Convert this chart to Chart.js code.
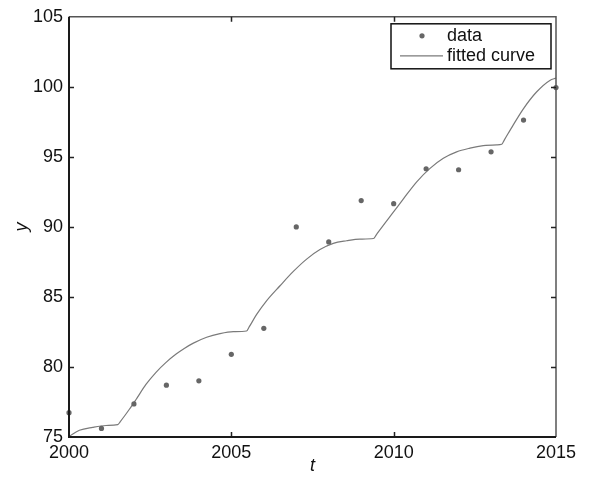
<!DOCTYPE html>
<html>
<head>
<meta charset="utf-8">
<script src="https://cdn.jsdelivr.net/npm/chart.js@4/dist/chart.umd.min.js"></script>
<style>
  html, body { margin: 0; padding: 0; background: #fff; }
  #wrap { width: 592px; height: 484px; }
</style>
</head>
<body>
<div id="wrap"><canvas id="c" width="592" height="484"></canvas></div>
<script>
// ---- data ----
const dataYears = [2000, 2001, 2002, 2003, 2004, 2005, 2006, 2007, 2008, 2009, 2010, 2011, 2012, 2013, 2014, 2015];
const dataValues = [76.74, 75.61, 77.36, 78.70, 79.01, 80.90, 82.76, 90.00, 88.93, 91.88, 91.66, 94.15, 94.08, 95.36, 97.63, 99.95];

const curveT = [2000.00, 2000.32, 2000.73, 2001.14, 2001.50, 2001.58, 2001.86, 2002.06, 2002.37, 2002.68, 2002.99,
                2003.30, 2003.55, 2003.83, 2004.24, 2004.65, 2005.06, 2005.47, 2005.55, 2005.78, 2006.09, 2006.50,
                2006.91, 2007.32, 2007.73, 2008.14, 2008.55, 2008.96, 2009.38, 2009.46, 2009.68, 2009.99, 2010.30,
                2010.71, 2011.12, 2011.53, 2011.94, 2012.35, 2012.76, 2013.17, 2013.33, 2013.41, 2013.68, 2014.00,
                2014.40, 2014.81, 2015.00];
const curveY = [75.05, 75.48, 75.69, 75.82, 75.88, 76.10, 76.98, 77.66, 78.75, 79.62, 80.33,
                80.92, 81.32, 81.70, 82.12, 82.38, 82.52, 82.57, 82.86, 83.75, 84.74, 85.80,
                86.82, 87.70, 88.38, 88.82, 89.01, 89.13, 89.17, 89.42, 90.11, 91.05, 92.00,
                93.22, 94.18, 94.90, 95.36, 95.62, 95.80, 95.86, 95.90, 96.21, 97.27, 98.45,
                99.63, 100.46, 100.62];

const xTicks = [2000, 2005, 2010, 2015];
const yTicks = [75, 80, 85, 90, 95, 100, 105];
const seriesLabels = ['data', 'fitted curve'];
const xTitle = 't';
const yTitle = 'y';

const FONT = '"Liberation Sans", Arial, sans-serif';
const pointColor = '#666666';
const lineColor = '#7a7a7a';

// box, inward ticks and legend, all from scales
const boxPlugin = {
  id: 'matlabBox',
  afterDatasetsDraw(chart) {
    const ctx = chart.ctx;
    const a = chart.chartArea;
    const xs = chart.scales.x, ys = chart.scales.y;
    ctx.save();
    // top & right frame
    ctx.strokeStyle = '#555';
    ctx.lineWidth = 1.5;
    ctx.beginPath();
    ctx.moveTo(a.left, a.top); ctx.lineTo(a.right, a.top); ctx.lineTo(a.right, a.bottom);
    ctx.stroke();
    // inward ticks
    ctx.strokeStyle = '#222';
    ctx.lineWidth = 1.5;
    const tl = 5;
    xTicks.forEach(v => {
      if (v === xs.min || v === xs.max) return;
      const px = Math.round(xs.getPixelForValue(v)) + 0.5;
      ctx.beginPath();
      ctx.moveTo(px, a.bottom); ctx.lineTo(px, a.bottom - tl);
      ctx.moveTo(px, a.top); ctx.lineTo(px, a.top + tl);
      ctx.stroke();
    });
    yTicks.forEach(v => {
      if (v === ys.min || v === ys.max) return;
      const py = Math.round(ys.getPixelForValue(v)) + 0.5;
      ctx.beginPath();
      ctx.moveTo(a.left, py); ctx.lineTo(a.left + tl, py);
      ctx.moveTo(a.right, py); ctx.lineTo(a.right - tl, py);
      ctx.stroke();
    });
    // bottom & left frame (dark)
    ctx.strokeStyle = '#1a1a1a';
    ctx.lineWidth = 2;
    ctx.beginPath();
    ctx.moveTo(a.left, a.top); ctx.lineTo(a.left, a.bottom); ctx.lineTo(a.right, a.bottom);
    ctx.stroke();

    // legend box (top-right, inside axes)
    const bw = 160, bh = 45;
    const bx = a.right - 5 - bw, by = a.top + 7;
    ctx.fillStyle = '#fff';
    ctx.fillRect(bx, by, bw, bh);
    ctx.strokeStyle = '#111';
    ctx.lineWidth = 1.5;
    ctx.strokeRect(bx, by, bw, bh);
    ctx.font = '18px ' + FONT;
    ctx.fillStyle = '#111';
    ctx.textBaseline = 'middle';
    ctx.textAlign = 'left';
    const row1 = by + 12, row2 = by + 32;
    const tx = bx + 56;
    ctx.fillStyle = pointColor;
    ctx.beginPath(); ctx.arc(bx + 31, row1, 2.6, 0, Math.PI * 2); ctx.fill();
    ctx.fillStyle = '#111';
    ctx.fillText(seriesLabels[0], tx, row1);
    ctx.strokeStyle = lineColor;
    ctx.lineWidth = 1.2;
    ctx.beginPath(); ctx.moveTo(bx + 9, row2); ctx.lineTo(bx + 52, row2); ctx.stroke();
    ctx.fillText(seriesLabels[1], tx, row2);
    ctx.restore();
  }
};

new Chart(document.getElementById('c'), {
  type: 'scatter',
  data: {
    datasets: [
      {
        label: seriesLabels[1],
        type: 'line',
        data: curveT.map((t, i) => ({ x: t, y: curveY[i] })),
        borderColor: lineColor,
        borderWidth: 1.2,
        pointRadius: 0,
        fill: false,
        cubicInterpolationMode: 'monotone',
        order: 2
      },
      {
        label: seriesLabels[0],
        data: dataYears.map((t, i) => ({ x: t, y: dataValues[i] })),
        backgroundColor: pointColor,
        borderColor: pointColor,
        borderWidth: 0,
        pointRadius: 2.6,
        clip: false,
        order: 1
      }
    ]
  },
  options: {
    responsive: false,
    animation: false,
    events: [],
    layout: { padding: { left: 0, top: 15, right: 36, bottom: 0 } },
    plugins: { legend: { display: false }, tooltip: { enabled: false } },
    scales: {
      x: {
        type: 'linear',
        min: 2000, max: 2015,
        afterBuildTicks: s => { s.ticks = xTicks.map(v => ({ value: v })); },
        afterFit: s => { s.height = 47; },
        grid: { display: true, drawOnChartArea: false, drawTicks: false },
        border: { display: false },
        ticks: { color: '#111', font: { family: FONT, size: 18 }, padding: 5, maxRotation: 0, autoSkip: false,
                 callback: v => String(v) },
        title: { display: true, text: xTitle, color: '#111', font: { family: FONT, size: 18, style: 'italic' },
                 padding: { top: 0, bottom: 7 } }
      },
      y: {
        type: 'linear',
        min: 75, max: 105,
        afterBuildTicks: s => { s.ticks = yTicks.map(v => ({ value: v })); },
        afterFit: s => { s.width = 69; },
        grid: { display: true, drawOnChartArea: false, drawTicks: false },
        border: { display: false },
        ticks: { color: '#111', font: { family: FONT, size: 18 }, padding: 6, autoSkip: false,
                 callback: v => String(v) },
        title: { display: true, text: yTitle, color: '#111', font: { family: FONT, size: 18, style: 'italic' },
                 padding: { top: 11, bottom: 0 } }
      }
    }
  },
  plugins: [boxPlugin]
});
</script>
</body>
</html>
